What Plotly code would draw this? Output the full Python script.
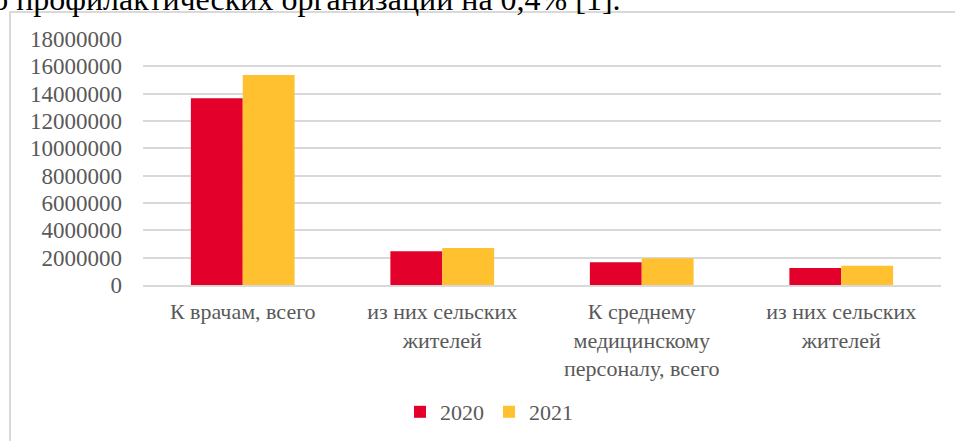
import plotly.graph_objects as go

categories = ["К врачам, всего", "из них сельских<br>жителей",
              "К среднему<br>медицинскому<br>персоналу, всего", "из них сельских<br>жителей"]
years = ["2020", "2021"]
values_2020 = [13660000, 2470000, 1660000, 1240000]
values_2021 = [15360000, 2710000, 1950000, 1410000]
colors = ["#E3002B", "#FFC12F"]
y_ticks = [0, 2000000, 4000000, 6000000, 8000000, 10000000, 12000000, 14000000, 16000000, 18000000]
top_text = "по профилактических организаций на 0,4% [1]."

W, H = 955, 441
L, R, T, B = 143, 14, 39, 156
pw = W - L - R
ph = H - T - B

def px(x):
    return (x - L) / pw

def py(y):
    return (H - B - y) / ph

positions = list(range(len(categories)))

fig = go.Figure()
for name, vals, c in zip(years, [values_2020, values_2021], colors):
    fig.add_trace(go.Bar(x=positions, y=vals, name=name,
                         marker=dict(color=c, line=dict(width=0))))

font_fam = "Liberation Serif, Times New Roman, serif"
fs = 22
fig.update_layout(
    width=W, height=H,
    margin=dict(l=L, r=R, t=T, b=B, autoexpand=False),
    paper_bgcolor="white", plot_bgcolor="white",
    barmode="group", bargap=0.48, bargroupgap=0,
    font=dict(family=font_fam, color="#595959", size=fs),
    showlegend=True,
    legend=dict(orientation="h", x=px(489), xanchor="center", y=py(412), yanchor="middle",
                font=dict(size=fs, color="#595959", family=font_fam), itemwidth=30,
                traceorder="normal", bgcolor="rgba(0,0,0,0)"),
    yaxis=dict(range=[0, 18000000], tickvals=y_ticks, ticktext=[str(v) for v in y_ticks],
               showgrid=True, gridcolor="#D9D9D9", gridwidth=1.5, zeroline=False,
               showline=False, ticks="", ticklabelstandoff=20, automargin=False,
               tickfont=dict(size=23, color="#595959", family=font_fam)),
    xaxis=dict(range=[-0.5, len(categories) - 0.5], tickvals=positions, ticktext=categories,
               showline=True, linecolor="#D9D9D9", linewidth=1.5, ticks="", showgrid=False,
               tickfont=dict(size=fs, color="#595959", family=font_fam), tickangle=0,
               ticklabelstandoff=6, automargin=False),
)

# chart frame border (extends beyond the visible window)
fig.add_shape(type="rect", xref="paper", yref="paper",
              x0=px(10), x1=px(970), y0=py(460), y1=py(12),
              line=dict(color="#D9D9D9", width=2), fillcolor="rgba(0,0,0,0)", layer="below")

fig.add_annotation(text=top_text, xref="paper", yref="paper", x=px(-27), y=py(19),
                   xanchor="left", yanchor="bottom", showarrow=False,
                   font=dict(size=32, color="#000000", family=font_fam))

fig.write_html("out.html", config={"displayModeBar": False},
               post_script="document.body.style.margin='0';document.body.style.overflow='hidden';")
